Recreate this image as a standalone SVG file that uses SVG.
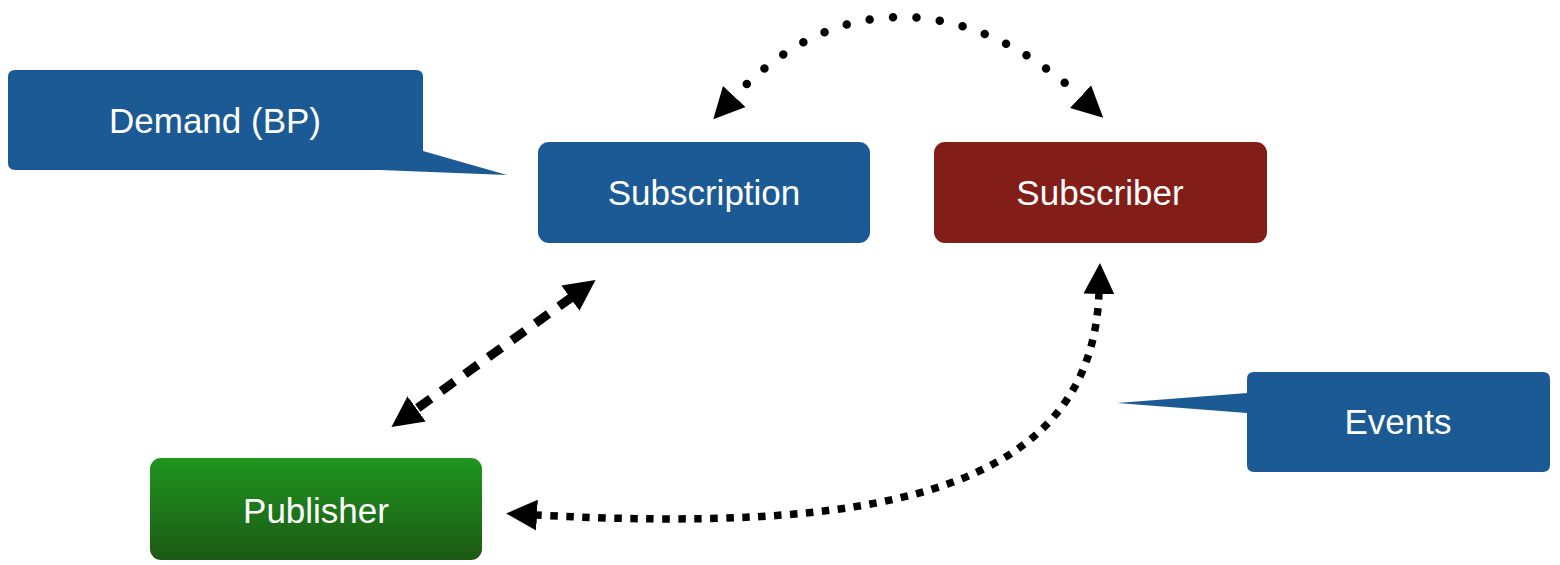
<svg xmlns="http://www.w3.org/2000/svg" width="1560" height="565" viewBox="0 0 1560 565">
<style>
.lbl{font-family:"Liberation Sans",Arial,sans-serif;font-size:35px;fill:#ffffff;text-anchor:middle}
.blue{fill:#1c5a95}
.red{fill:#821d17}
.conn{fill:none;stroke:#000}
.dots{stroke-width:8.5;stroke-linecap:round;stroke-dasharray:0 23.5;stroke-dashoffset:4}
.dash{stroke-width:9;stroke-dasharray:16 13}
.sq{stroke-width:7.5;stroke-dasharray:7.5 8.5}
</style>
<defs>
<linearGradient id="gGreen" x1="0" y1="0" x2="0" y2="1">
<stop offset="0" stop-color="#1f951f"/>
<stop offset="1" stop-color="#1c5914"/>
</linearGradient>
<marker id="arr" markerUnits="userSpaceOnUse" markerWidth="32" markerHeight="31" viewBox="0 0 32 31" refX="2" refY="15.5" orient="auto-start-reverse">
<path d="M0,0 L31,15.5 L0,31 Z" fill="#000"/>
</marker>
</defs>
<rect width="1560" height="565" fill="#ffffff"/>
<g id="demand">
<path class="blue" d="M15,70 H416 Q423,70 423,77 V151 L507,175 L380,170 H15 Q8,170 8,163 V77 Q8,70 15,70 Z"/>
<text class="lbl" x="215" y="133">Demand (BP)</text>
</g>
<g id="events">
<path class="blue" d="M1254,372 H1543 Q1550,372 1550,379 V465 Q1550,472 1543,472 H1254 Q1247,472 1247,465 V413 L1117,403 L1247,393 V379 Q1247,372 1254,372 Z"/>
<text class="lbl" x="1398" y="434">Events</text>
</g>
<g id="subscription">
<rect class="blue" x="538" y="142" width="332" height="101" rx="11"/>
<text class="lbl" x="704" y="205">Subscription</text>
</g>
<g id="subscriber">
<rect class="red" x="934" y="142" width="333" height="101" rx="11"/>
<text class="lbl" x="1100" y="205">Subscriber</text>
</g>
<g id="publisher">
<rect fill="url(#gGreen)" x="150" y="458" width="332" height="102" rx="11"/>
<text class="lbl" x="316" y="523">Publisher</text>
</g>
<g id="connectors">
<path class="conn dots" d="M733,98 C837,-14 970,-6 1082,98" marker-start="url(#arr)" marker-end="url(#arr)"/>
<path class="conn dash" d="M572,297 L415,410" marker-start="url(#arr)" marker-end="url(#arr)"/>
<path class="conn sq" d="M1099,292 C1092,500 860,532 535,515" marker-start="url(#arr)" marker-end="url(#arr)"/>
</g>
</svg>
